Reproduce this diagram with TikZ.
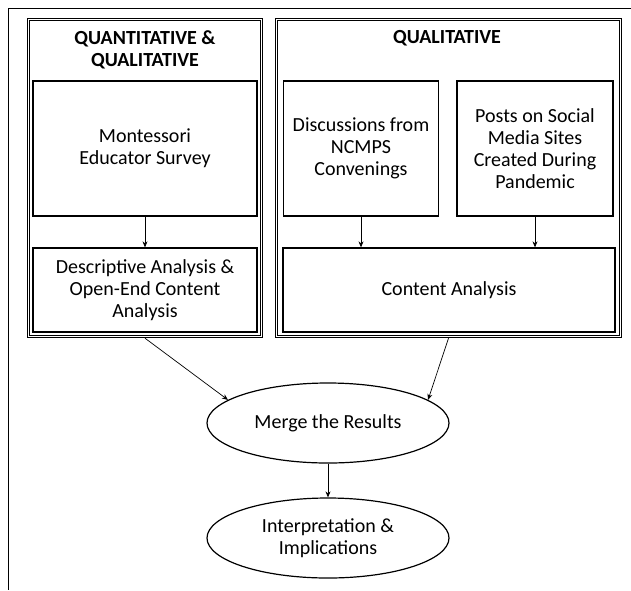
\documentclass[tikz,border=0pt]{standalone}
\usepackage{fontspec}
\setmainfont{Carlito}
\usetikzlibrary{arrows.meta,positioning,calc,shapes.geometric}

\begin{document}
\begin{tikzpicture}[x=1pt, y=-1pt, font=\fontsize{20}{22}\selectfont]
            \tikzset{
                strand/.style={draw, line width=1.4pt, minimum height=319pt, inner sep=0pt},
                box/.style={draw, line width=1.3pt, minimum height=#1, align=center,
                        inner sep=2pt},
                oval/.style={draw, ellipse, line width=1.2pt, minimum width=242pt,
                        minimum height=80pt, align=center, inner sep=0pt},
                arr/.style={-{Stealth[length=6pt,width=5pt]}, line width=0.7pt},
                title/.style={font=\fontsize{20}{22}\selectfont\bfseries, align=center}
            }
            \useasboundingbox (0,0) rectangle (631,590);

            % page frame
            \draw[line width=1pt] (631,8) -- (8,8) -- (8,590);

            % Quantitative & qualitative strand
            \node[strand, minimum width=235pt] (quant) at (145,178) {};
            \draw[line width=0.5pt] ($(quant.south west)+(2.5,-2.5)$) rectangle ($(quant.north east)+(-2.5,2.5)$);
            \node[title] (quanttitle) at (145,50) {QUANTITATIVE \&\\QUALITATIVE};
            \node[box=135pt, minimum width=224pt] (survey) at (145,148.5)
                {Montessori\\Educator Survey};
            \node[box=84pt, minimum width=224pt] (descr) at (145,290)
                {Descriptive Analysis \&\\Open-End Content\\Analysis};

            % Qualitative strand
            \node[strand, minimum width=346pt] (qual) at (448.5,178) {};
            \draw[line width=0.5pt] ($(qual.south west)+(2.5,-2.5)$) rectangle ($(qual.north east)+(-2.5,2.5)$);
            \node[title] (qualtitle) at (447,38) {QUALITATIVE};
            \node[box=135pt, minimum width=155pt] (discuss) at (361,148.5)
                {Discussions from\\NCMPS\\Convenings};
            \node[box=135pt, minimum width=156pt] (posts) at (535,148.5)
                {Posts on Social\\Media Sites\\Created During\\Pandemic};
            \node[box=84pt, minimum width=332pt] (content) at (449,290) {Content Analysis};

            % merge and interpret
            \node[oval] (merge) at (328,423) {Merge the Results};
            \node[oval] (interp) at (328,538) {Interpretation \&\\Implications};

            % connectors
            \draw[arr] (survey) -- (descr);
            \foreach \src in {discuss, posts} {
                    \draw[arr] (\src.south) -- (\src.south |- content.north);
                }
            \draw[arr] (quant.south) -- (merge.167);
            \draw[arr] (qual.south) -- (merge.13);
            \draw[arr] (merge) -- (interp);

        \end{tikzpicture}
\end{document}
